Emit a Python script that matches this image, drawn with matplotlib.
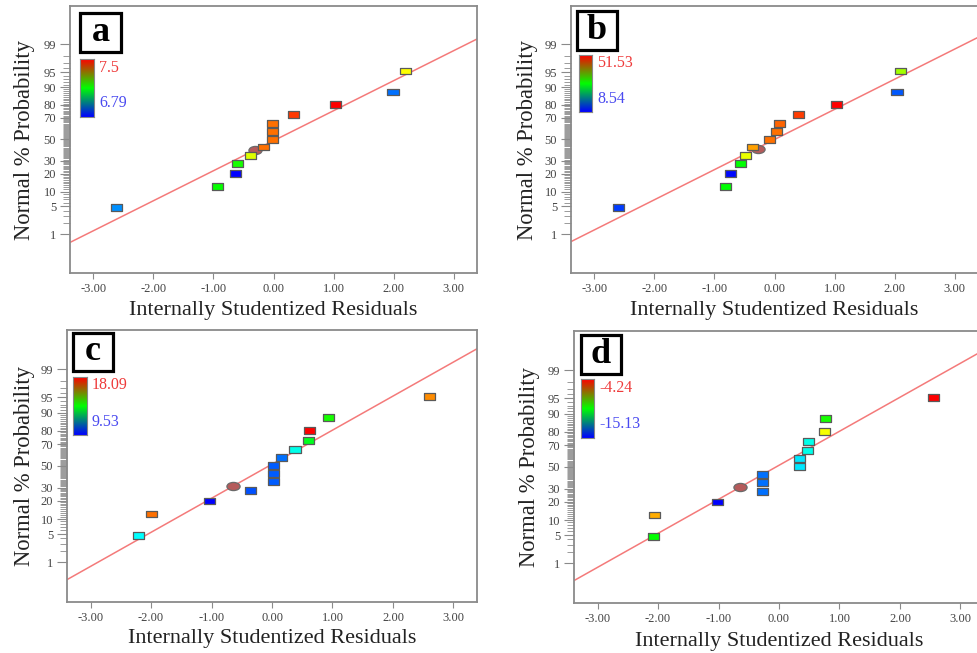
import math
from statistics import NormalDist

import numpy as np
import matplotlib
matplotlib.use("Agg")
import matplotlib.pyplot as plt
from matplotlib.colors import LinearSegmentedColormap
from matplotlib.markers import MarkerStyle
from matplotlib.path import Path
from matplotlib.patches import Rectangle
from matplotlib.transforms import Affine2D
from matplotlib.ticker import FixedLocator, FormatStrFormatter, NullFormatter

# ---------------- data ----------------
panel_labels = ["a", "b", "c", "d"]
legend_high = [7.5, 51.53, 18.09, -4.24]
legend_low = [6.79, 8.54, 9.53, -15.13]

# normal % probability of the ranked runs
run_prob = [4.7, 12.3, 19.8, 27.4, 34.9, 42.5, 50.0, 57.5, 65.1, 72.6, 80.2, 87.7, 95.3]

resid_a = [-2.61, -0.93, -0.63, -0.60, -0.39, -0.16, -0.02, -0.02, -0.02, 0.34, 1.03, 1.99, 2.20]
resp_a = [6.89, 7.15, 6.79, 7.16, 7.30, 7.42, 7.42, 7.42, 7.42, 7.46, 7.50, 6.87, 7.32]

resid_b = [-2.60, -0.82, -0.73, -0.56, -0.49, -0.37, -0.09, 0.03, 0.09, 0.40, 1.04, 2.04, 2.10]
resp_b = [11.1, 30.0, 9.0, 30.0, 39.9, 44.7, 46.8, 46.8, 47.2, 49.0, 51.53, 12.4, 36.9]

resid_c = [-2.21, -1.99, -1.04, -0.35, 0.02, 0.02, 0.02, 0.16, 0.38, 0.60, 0.62, 0.93, 2.61]
resp_c = [11.67, 17.15, 9.53, 10.21, 10.30, 10.30, 10.30, 10.47, 11.84, 13.55, 18.09, 13.98, 16.89]

resid_d = [-2.07, -2.06, -1.02, -0.28, -0.28, -0.28, 0.34, 0.34, 0.47, 0.49, 0.75, 0.77, 2.56]
resp_d = [-9.68, -6.09, -15.13, -13.93, -13.93, -13.93, -12.63, -12.63, -12.19, -12.19, -7.07, -9.47, -4.24]

# highlighted run (residual, % probability)
special_resid = [-0.31, -0.27, -0.64, -0.65]
special_prob = [40.0, 40.9, 31.7, 31.3]

# reference line: z = intercept + slope * residual
line_intercept = [-0.035, -0.005, 0.038, 0.036]
line_slope = [0.736, 0.739, 0.820, 0.819]

y_major = [1, 5, 10, 20, 30, 50, 70, 80, 90, 95, 99]
x_major = [-3, -2, -1, 0, 1, 2, 3]

residuals = [resid_a, resid_b, resid_c, resid_d]
responses = [resp_a, resp_b, resp_c, resp_d]

# ---------------- normal probability scale ----------------
_nd = NormalDist()
_ppf = np.vectorize(_nd.inv_cdf, otypes=[float])
_erf = np.vectorize(math.erf, otypes=[float])


def prob_forward(p):
    p = np.clip(np.asarray(p, dtype=float) / 100.0, 1e-12, 1 - 1e-12)
    return _ppf(p)


def prob_inverse(z):
    z = np.asarray(z, dtype=float)
    return 50.0 * (1.0 + _erf(z / math.sqrt(2.0)))


# ---------------- styling ----------------
plt.rcParams["font.family"] = ["Liberation Serif", "DejaVu Serif"]
plt.rcParams["axes.unicode_minus"] = False

W, H = 977, 653
fig = plt.figure(figsize=(W / 100, H / 100), dpi=100)
fig.patch.set_facecolor("white")

# axes boxes in pixels: left, top, width, height
boxes = [(70, 6, 407, 267), (571, 6, 407, 267), (67, 330, 410, 272), (574, 331, 410, 272)]
# per-panel pixel offsets inside the axes (from the top-left corner)
letter_box = [(10, 7, 41, 39), (6, 5, 40, 39), (6, 3, 40, 38), (7, 4, 40, 39)]
bar_box = [(10, 53, 14, 58), (8, 49, 13, 57), (6, 47, 14, 58), (7, 48, 13, 59)]
bar_text = [((29, 62), (29, 97)), ((26, 57), (26, 93)), ((25, 55), (25, 92)), ((25, 57), (25, 93))]
xlabel_y = [-0.105, -0.103, -0.100, -0.106]
ylabel_x = [-0.086, -0.082, -0.079, -0.084]

point_cmap = LinearSegmentedColormap.from_list(
    "resp", ["#0000ff", "#00ffff", "#00ff00", "#ffff00", "#ff0000"])
bar_cmap = LinearSegmentedColormap.from_list("bar", ["#0000ff", "#00ff00", "#ff0000"])

rect_marker = MarkerStyle(Path([(-1, -0.62), (1, -0.62), (1, 0.62), (-1, 0.62), (-1, -0.62)],
                               [Path.MOVETO, Path.LINETO, Path.LINETO, Path.LINETO, Path.CLOSEPOLY]))
ellipse_marker = MarkerStyle(Path.unit_circle().transformed(Affine2D().scale(1.0, 0.62)))

spine_col = "#8a8a8a"
x_lim = (-3.39, 3.39)
z_lim = (-3.28, 3.27)


def frac(ax_px, dx, dy):
    """pixel offset from the axes top-left -> axes fraction"""
    _, _, w, h = ax_px
    return dx / w, 1 - dy / h


for i in range(4):
    L, T, Wp, Hp = boxes[i]
    ax = fig.add_axes([L / W, 1 - (T + Hp) / H, Wp / W, Hp / H])
    ax.set_yscale("function", functions=(prob_forward, prob_inverse))
    ax.set_xlim(*x_lim)
    ax.set_ylim(*prob_inverse(np.array(z_lim)))

    for s in ax.spines.values():
        s.set_color(spine_col)
        s.set_linewidth(1.3)

    # ticks
    ax.yaxis.set_major_locator(FixedLocator(y_major))
    ax.yaxis.set_minor_locator(FixedLocator([v for v in range(1, 100) if v not in y_major]))
    ax.yaxis.set_major_formatter(FormatStrFormatter("%d"))
    ax.yaxis.set_minor_formatter(NullFormatter())
    ax.xaxis.set_major_locator(FixedLocator(x_major))
    ax.xaxis.set_major_formatter(FormatStrFormatter("%.2f"))
    ax.tick_params(axis="y", which="major", length=7, width=0.8, color=spine_col,
                   labelsize=9, labelcolor="#444444", pad=3)
    ax.tick_params(axis="y", which="minor", length=5, width=0.6, color=spine_col)
    ax.tick_params(axis="x", which="major", length=4, width=0.8, color=spine_col,
                   labelsize=9, labelcolor="#444444", pad=3)

    # fitted normal line
    xs = np.array(x_lim)
    ax.plot(xs, prob_inverse(line_intercept[i] + line_slope[i] * xs),
            color="#f47a7a", lw=1.1, zorder=2)

    # highlighted run
    ax.scatter([special_resid[i]], [special_prob[i]], marker=ellipse_marker, s=90,
               facecolor="#b55a5a", edgecolor="#6a6a6a", linewidths=0.9, zorder=3)

    # runs coloured by response
    ax.scatter(residuals[i], run_prob, c=responses[i], cmap=point_cmap,
               vmin=legend_low[i], vmax=legend_high[i], marker=rect_marker, s=64,
               edgecolors="#5a5a5a", linewidths=0.9, zorder=4)

    ax.set_xlabel("Internally Studentized Residuals", fontsize=16, color="#222222")
    ax.set_ylabel("Normal % Probability", fontsize=16.3, color="#222222")
    ax.xaxis.set_label_coords(0.5, xlabel_y[i])
    ax.yaxis.set_label_coords(ylabel_x[i], 0.5)

    # panel letter
    bx, by, bw, bh = letter_box[i]
    x0, y1 = frac(boxes[i], bx, by)
    x1, y0 = frac(boxes[i], bx + bw, by + bh)
    ax.add_patch(Rectangle((x0, y0), x1 - x0, y1 - y0, transform=ax.transAxes,
                           facecolor="white", edgecolor="black", lw=2.3, zorder=6))
    ax.text((x0 + x1) / 2, (y0 + y1) / 2, panel_labels[i], transform=ax.transAxes,
            ha="center", va="center", fontsize=26, fontweight="bold", zorder=7)

    # colour legend
    cx, cy, cw, ch = bar_box[i]
    gx0, gy1 = frac(boxes[i], cx, cy)
    gx1, gy0 = frac(boxes[i], cx + cw, cy + ch)
    cax = ax.inset_axes([gx0, gy0, gx1 - gx0, gy1 - gy0])
    cax.imshow(np.linspace(1, 0, 128).reshape(-1, 1), cmap=bar_cmap, aspect="auto",
               interpolation="bilinear")
    cax.set_xticks([])
    cax.set_yticks([])
    for s in cax.spines.values():
        s.set_color("#888888")
        s.set_linewidth(0.8)
    (hx, hy), (lx, ly) = bar_text[i]
    tx, ty = frac(boxes[i], hx, hy)
    ax.text(tx, ty, f"{legend_high[i]:g}", transform=ax.transAxes, ha="left", va="center",
            fontsize=11.5, color="#ee3a3a", zorder=7)
    tx, ty = frac(boxes[i], lx, ly)
    ax.text(tx, ty, f"{legend_low[i]:g}", transform=ax.transAxes, ha="left", va="center",
            fontsize=11.5, color="#4a4af0", zorder=7)

fig.savefig("out.png", dpi=100, facecolor="white")
